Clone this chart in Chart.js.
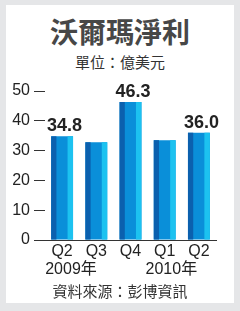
<!DOCTYPE html>
<html>
<head>
<meta charset="utf-8">
<script src="https://cdn.jsdelivr.net/npm/chart.js@4"></script>
<style>
  html, body { margin: 0; padding: 0; }
  body { width: 240px; height: 311px; background: #e5e6e8; position: relative; overflow: hidden;
         font-family: 'Liberation Sans', Arial, 'Noto Sans CJK TC', sans-serif; }
  #panel { position: absolute; left: 6px; top: 5px; width: 228px; height: 298px; background: #fff; }
  .txt { position: absolute; left: 0; width: 240px; text-align: center; }
  #title { top: 20px; font-size: 28px; line-height: 28px; font-weight: bold; color: #474747; }
  #sub { top: 55px; font-size: 15px; line-height: 16px; color: #333; }
  #source { top: 284px; font-size: 15px; line-height: 16px; color: #333; }
  #wrap { position: absolute; left: 0; top: 75px; width: 240px; height: 210px; }
</style>
</head>
<body>
<div id="panel"></div>
<div class="txt" id="title">沃爾瑪淨利</div>
<div class="txt" id="sub">單位：億美元</div>
<div id="wrap"><canvas id="myChart" width="240" height="210"></canvas></div>
<div class="txt" id="source">資料來源：彭博資訊</div>
<script>
let categories = ['Q2', 'Q3', 'Q4', 'Q1', 'Q2'];
let yearLabels = ['    2009年', '', '', '   2010年', ''];
let netIncome = [34.8, 32.8, 46.3, 33.5, 36.0];
let valueLabels = ['34.8', '', '46.3', '', '36.0'];
let yMin = 0, yMax = 50, yStep = 10;

const fontFamily = "'Liberation Sans', Arial, 'Noto Sans CJK TC', sans-serif";

// darker left edge, lighter right edge, plus the value on top
const barStyle = {
    id: 'barStyle',
    afterDatasetsDraw(chart) {
        const ctx = chart.ctx;
        ctx.save();
        chart.getDatasetMeta(0).data.forEach((bar, i) => {
            const left = bar.x - bar.width / 2;
            const h = bar.base - bar.y;
            ctx.fillStyle = '#0b60ae';
            ctx.fillRect(left, bar.y, bar.width * 0.24, h);
            ctx.fillStyle = '#1cc2f0';
            ctx.fillRect(left + bar.width * 0.75, bar.y, bar.width * 0.25, h);
            if (valueLabels[i]) {
                ctx.fillStyle = '#222';
                ctx.font = 'bold 18px ' + fontFamily;
                ctx.textAlign = 'center';
                ctx.textBaseline = 'alphabetic';
                ctx.fillText(valueLabels[i], bar.x + 2.5, bar.y - 5);
            }
        });
        ctx.restore();
    }
};

const ctx = document.getElementById('myChart').getContext('2d');
const myChart = new Chart(ctx, {
    type: 'bar',
    data: {
        labels: categories.map((q, i) => [q, yearLabels[i]]),
        datasets: [
            {
                data: netIncome,
                backgroundColor: '#0a8fd9',
                borderWidth: 0,
                categoryPercentage: 0.8,
                barPercentage: 0.8,
            },
        ]
    },
    plugins: [barStyle],
    options: {
        responsive: false,
        animation: false,
        layout: { padding: { top: 16, right: 24, bottom: 0, left: 0 } },
        plugins: {
            legend: { display: false },
            tooltip: { enabled: false }
        },
        scales: {
            x: {
                grid: { display: false, drawTicks: false },
                border: { display: true, color: '#333', width: 1 },
                ticks: {
                    color: '#222',
                    padding: 3,
                    maxRotation: 0,
                    autoSkip: false,
                    font: { family: fontFamily, size: 16, lineHeight: 1.125 }
                },
                afterFit(scale) { scale.height = 45; }
            },
            y: {
                min: yMin,
                max: yMax,
                grid: { drawOnChartArea: false, drawTicks: true, tickLength: 11, color: '#333' },
                border: { display: false },
                ticks: {
                    stepSize: yStep,
                    color: '#222',
                    padding: 4,
                    font: { family: fontFamily, size: 16 }
                },
                afterFit(scale) { scale.width = 45; }
            }
        }
    }
});
</script>
</body>
</html>
